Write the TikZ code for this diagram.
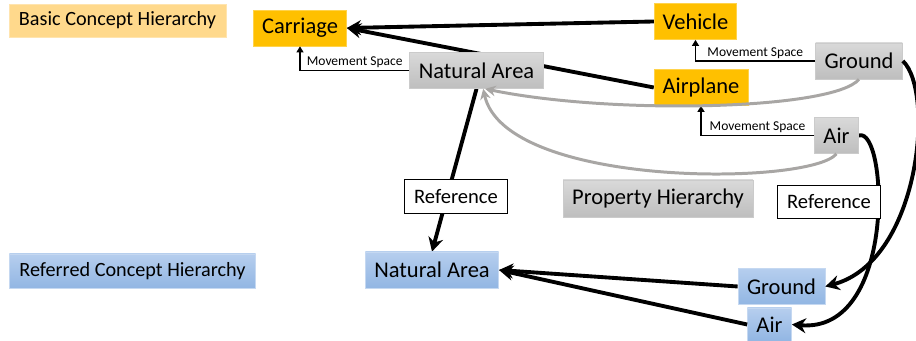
\documentclass[tikz,border=0pt]{standalone}
\usepackage{fontspec}
\setmainfont{Carlito}
\usetikzlibrary{arrows.meta,backgrounds}

\definecolor{conceptorange}{HTML}{FFC000}
\definecolor{labelorange}{HTML}{FFD98C}
\definecolor{propgraytop}{HTML}{D9D9D9}
\definecolor{propgraybot}{HTML}{BEBEBE}
\definecolor{refbluetop}{HTML}{B6CEEE}
\definecolor{refbluebot}{HTML}{92B6E3}
\definecolor{propline}{HTML}{A8A6A4}

\tikzset{
  concept/.style={draw=conceptorange!70!white, fill=conceptorange, inner xsep=0.17cm,
    minimum height=0.72cm, font=\fontsize{12.8}{15}\selectfont},
  property/.style={draw=propgraybot!80!white, top color=propgraytop, bottom color=propgraybot,
    inner xsep=0.18cm, minimum height=0.72cm, font=\fontsize{12.8}{15}\selectfont},
  referred/.style={draw=refbluetop!80!white, top color=refbluetop, bottom color=refbluebot,
    inner xsep=0.18cm, minimum height=0.72cm, font=\fontsize{12.8}{15}\selectfont},
  basiclabel/.style={draw=labelorange!70!white, fill=labelorange, inner xsep=0.2cm,
    minimum height=0.66cm, font=\fontsize{11.5}{14}\selectfont},
  referredlabel/.style={draw=refbluetop!80!white, top color=refbluetop, bottom color=refbluebot,
    inner xsep=0.2cm, minimum height=0.68cm, font=\fontsize{11.5}{14}\selectfont},
  reftag/.style={draw=black, fill=white, line width=0.6pt, inner xsep=0.2cm,
    minimum height=0.67cm, font=\fontsize{11.7}{14}\selectfont},
  bigarrow/.style={draw=black, line width=2.2pt, -{Stealth[length=8pt,width=8.5pt]}},
  movearrow/.style={draw=black, line width=1.1pt, -{Triangle[length=3.5pt,width=4pt]}},
  movelabel/.style={font=\fontsize{7.7}{9}\selectfont, inner sep=1pt},
  proparrow/.style={draw=propline, line width=1.7pt, -{Stealth[length=6pt,width=6pt]}},
}

\begin{document}
\begin{tikzpicture}
    \useasboundingbox (0,0) rectangle (18.32,6.82);

    %%HIERARCHY LABELS
    \node[basiclabel] (basic) at (2.35,6.41) {Basic Concept Hierarchy};
    \node[referredlabel] (referred) at (2.65,1.40) {Referred Concept Hierarchy};
    \node[property, minimum height=0.74cm] (prophier) at (13.16,2.85) {Property Hierarchy};

    %%BASIC CONCEPTS
    \node[concept] (carriage) at (6.00,6.26) {Carriage};
    \node[concept] (vehicle) at (13.91,6.39) {Vehicle};
    \node[concept] (airplane) at (14.02,5.07) {Airplane};

    %%PROPERTIES
    \node[property] (natgray) at (9.53,5.41) {Natural Area};
    \node[property] (groundgray) at (17.18,5.60) {Ground};
    \node[property] (airgray) at (16.73,4.11) {Air};

    %%REFERRED CONCEPTS
    \node[referred] (natblue) at (8.64,1.42) {Natural Area};
    \node[referred] (groundblue) at (15.63,1.09) {Ground};
    \node[referred, minimum height=0.66cm] (airblue) at (15.39,0.33) {Air};

    %%REFERENCE TAGS
    \node[reftag] (refleft) at (9.12,2.89) {Reference};
    \node[reftag] (refright) at (16.58,2.78) {Reference};

    %%CONNECTORS
    % Behind the boxes
    \begin{scope}[on background layer]
        \draw[bigarrow] (airplane.west) -- (carriage.east);
        \draw[bigarrow] (natgray.south) -- (natblue.north);
        \draw[bigarrow] (airgray.east) .. controls (17.75,4.3) and (17.95,0.15) .. (airblue.east);
    \end{scope}

    % Sub-concepts
    \draw[bigarrow] (vehicle.west) -- (carriage.east);
    \draw[bigarrow] (groundblue.west) -- (natblue.east);
    \draw[bigarrow] (airblue.west) -- (natblue.east);

    % Movement space
    \draw[movearrow] (natgray.west) -| (carriage.south) node[movelabel, pos=0.25, above] {Movement Space};
    \draw[movearrow] (groundgray.west) -| (vehicle.south) node[movelabel, pos=0.25, above] {Movement Space};
    \draw[movearrow] (airgray.west) -| (airplane.south) node[movelabel, pos=0.25, above] {Movement Space};

    % Property hierarchy
    \draw[proparrow] (groundgray.south) .. controls (16.66,4.62) and (12.24,4.52) .. (natgray.295);
    \draw[proparrow] (airgray.south) .. controls (16.2,3.1) and (10.1,3.05) .. (natgray.290);

    % Reference
    \draw[bigarrow] (groundgray.east) .. controls (18.7,5.0) and (18.4,1.6) .. (groundblue.east);

\end{tikzpicture}
\end{document}
